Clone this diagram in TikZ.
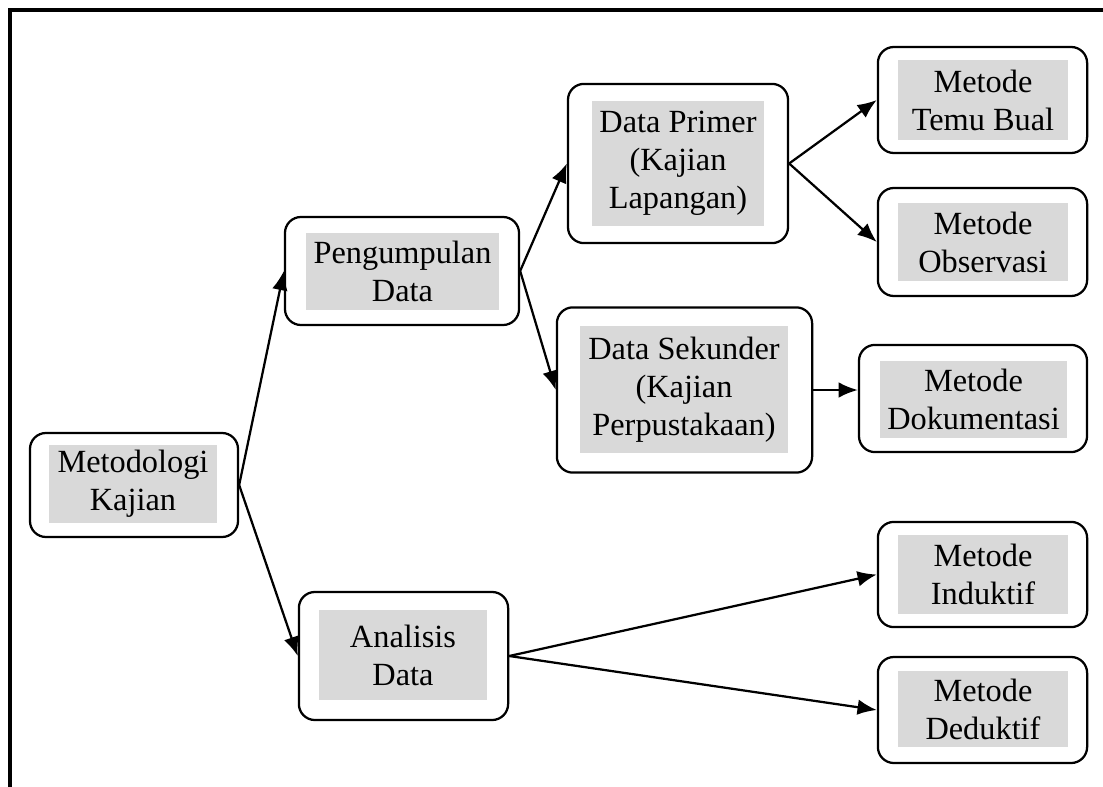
\documentclass[tikz,border=0pt]{standalone}
\usepackage{fontspec}
\setmainfont{Liberation Serif}
\usetikzlibrary{arrows.meta}
\definecolor{abu}{RGB}{217,217,217}

\begin{document}
\begin{tikzpicture}[
    % GLOBAL CFG
    x=0.025cm, y=-0.025cm,
    font=\fontsize{23}{27}\selectfont,
    >={Latex[length=4.8mm,width=3.9mm]},
    % Styles
    kotak/.style={% outer rounded box
        rectangle,
        rounded corners=4mm,
        draw,
        line width=1.6pt,
        },
    isi/.style={% grey shaded text
        rectangle,
        fill=abu,
        align=center,
        inner sep=0pt,
        },
    panah/.style={% connectors
        ->,
        line width=1.6pt,
        },
    ]

    \useasboundingbox (0,0) rectangle (1103,787);

    % Page frame (only top and left edges show)
    \draw [line width=2.2pt] (1103,10) -- (10,10) -- (10,787);

    % Draw boxes named as basis mk, pd, ad, ...
    \node [kotak, minimum width=5.2cm, minimum height=2.6cm] (mk) at (134,485) {};
    \node [kotak, minimum width=5.85cm, minimum height=2.7cm] (pd) at (402,271) {};
    \node [kotak, minimum width=5.23cm, minimum height=3.2cm] (ad) at (403.5,656) {};
    \node [kotak, minimum width=5.5cm, minimum height=3.98cm] (dp) at (678,163.5) {};
    \node [kotak, minimum width=6.38cm, minimum height=4.13cm] (ds) at (684.5,390) {};
    \node [kotak, minimum width=5.23cm, minimum height=2.65cm] (tb) at (982.5,100) {};
    \node [kotak, minimum width=5.23cm, minimum height=2.7cm] (ob) at (982.5,242) {};
    \node [kotak, minimum width=5.7cm, minimum height=2.68cm] (dk) at (973,398.5) {};
    \node [kotak, minimum width=5.23cm, minimum height=2.63cm] (in) at (982.5,574.5) {};
    \node [kotak, minimum width=5.23cm, minimum height=2.65cm] (de) at (982.5,710) {};

    % Draw grey texts, named as basis mk-t, pd-t, ...
    \node [isi, minimum width=4.2cm, minimum height=1.95cm] (mk-t) at (133,484) {Metodologi\\Kajian};
    \node [isi, minimum width=4.83cm, minimum height=1.93cm] (pd-t) at (402.5,271.5) {Pengumpulan\\Data};
    \node [isi, minimum width=4.2cm, minimum height=2.25cm] (ad-t) at (403,655) {Analisis\\Data};
    \node [isi, minimum width=4.3cm, minimum height=3.13cm] (dp-t) at (678,163.5) {Data Primer\\(Kajian\\Lapangan)};
    \node [isi, minimum width=5.2cm, minimum height=3.18cm] (ds-t) at (684,389.5) {Data Sekunder\\(Kajian\\Perpustakaan)};
    \node [isi, minimum width=4.25cm, minimum height=2cm] (tb-t) at (983,100) {Metode\\Temu Bual};
    \node [isi, minimum width=4.25cm, minimum height=1.95cm] (ob-t) at (983,242) {Metode\\Observasi};
    \node [isi, minimum width=4.68cm, minimum height=1.93cm] (dk-t) at (973.5,399.5) {Metode\\Dokumentasi};
    \node [isi, minimum width=4.25cm, minimum height=1.95cm] (in-t) at (983,574.5) {Metode\\Induktif};
    \node [isi, minimum width=4.25cm, minimum height=1.9cm] (de-t) at (983,709) {Metode\\Deduktif};

    % Connecting all
    \draw [panah] (mk.east) -- (pd.west);
    \draw [panah] (mk.east) -- (ad.west);
    \draw [panah] (pd.east) -- (dp.west);
    \draw [panah] (pd.east) -- (ds.west);
    \draw [panah] (dp.east) -- (tb.west);
    \draw [panah] (dp.east) -- (ob.west);
    \draw [panah] (ds.east) -- (dk.west |- ds.east);
    \draw [panah] (ad.east) -- (in.west);
    \draw [panah] (ad.east) -- (de.west);

\end{tikzpicture}
\end{document}
